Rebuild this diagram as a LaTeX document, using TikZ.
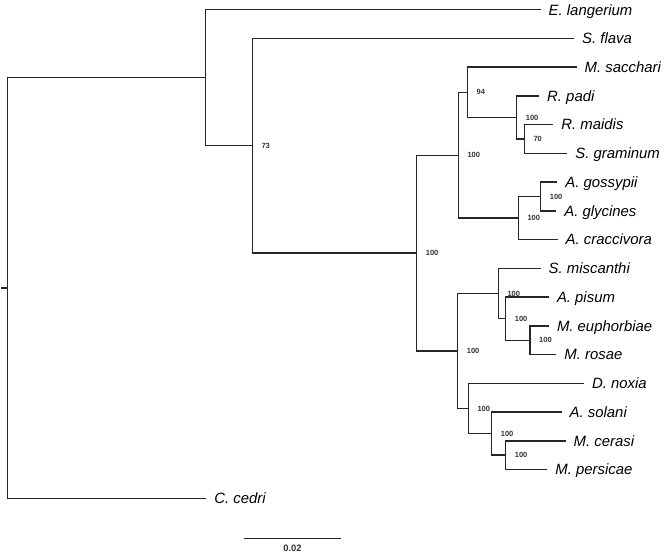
\documentclass[tikz,border=0pt]{standalone}
\usepackage{fontspec}
\setmainfont{Liberation Sans}
\begin{document}
\begin{tikzpicture}[x=1pt, y=-28.74pt,
    branch/.style={line width=1.4pt, black!85, line cap=rect},
    taxon/.style={anchor=west, inner xsep=8.5pt, inner ysep=0pt, text height=10.6pt, text depth=0pt,
      font=\fontsize{14.9}{16}\selectfont\itshape},
    support/.style={anchor=west, xshift=9pt, inner sep=0pt, text=black!80,
      font=\fontsize{7.5}{8}\selectfont\bfseries}]
    \useasboundingbox (0,-0.3375) rectangle (669,18.939);

    % Tips of the tree
    \node[taxon] (elang) at (540,0) {E. langerium};
    \node[taxon] (sflava) at (573.5,1) {S. flava};
    \node[taxon] (msacch) at (576,2) {M. sacchari};
    \node[taxon] (rpadi) at (538.5,3) {R. padi};
    \node[taxon] (rmaidis) at (552.7,4) {R. maidis};
    \node[taxon] (sgram) at (566.7,5) {S. graminum};
    \node[taxon] (agoss) at (556.7,6) {A. gossypii};
    \node[taxon] (aglyc) at (555.7,7) {A. glycines};
    \node[taxon] (acracc) at (557,8) {A. craccivora};
    \node[taxon] (smisc) at (540,9) {S. miscanthi};
    \node[taxon] (apisum) at (548.3,10) {A. pisum};
    \node[taxon] (meuph) at (548.3,11) {M. euphorbiae};
    \node[taxon] (mrosae) at (555.7,12) {M. rosae};
    \node[taxon] (dnoxia) at (583.3,13) {D. noxia};
    \node[taxon] (asolani) at (561,14) {A. solani};
    \node[taxon] (mcerasi) at (565,15) {M. cerasi};
    \node[taxon] (mpers) at (546.7,16) {M. persicae};
    \node[taxon] (ccedri) at (205.7,17) {C. cedri};

    % Internal nodes
    \coordinate (stub) at (2,9.684);
    \coordinate (root) at (7.3,9.684);
    \coordinate (nA) at (205.7,2.367);
    \coordinate (n73) at (252.3,4.734);
    \coordinate (nbig) at (416.7,8.469);
    \coordinate (nup) at (458.3,5.0625);
    \coordinate (n94) at (467.5,2.875);
    \coordinate (nrp) at (516.7,3.75);
    \coordinate (nrm) at (524.3,4.5);
    \coordinate (nac) at (518.3,7.25);
    \coordinate (nag) at (540.7,6.5);
    \coordinate (nlo) at (457.7,11.875);
    \coordinate (nsm) at (498.3,9.875);
    \coordinate (nap) at (505.7,10.75);
    \coordinate (nme) at (530,11.5);
    \coordinate (ndn) at (468.3,13.875);
    \coordinate (nas) at (491.7,14.75);
    \coordinate (nmc) at (505.7,15.5);

    % Root and outgroup
    \draw[branch] (stub) -- (root);
    \draw[branch] (root) |- (nA);
    \draw[branch] (root) |- (ccedri.west);
    \draw[branch] (nA) |- (elang.west);
    \draw[branch] (nA) |- (n73);
    \draw[branch] (n73) |- (sflava.west);
    \draw[branch] (n73) |- (nbig);

    % Upper clade
    \draw[branch] (nbig) |- (nup);
    \draw[branch] (nup) |- (n94);
    \draw[branch] (n94) |- (msacch.west);
    \draw[branch] (n94) |- (nrp);
    \draw[branch] (nrp) |- (rpadi.west);
    \draw[branch] (nrp) |- (nrm);
    \draw[branch] (nrm) |- (rmaidis.west);
    \draw[branch] (nrm) |- (sgram.west);
    \draw[branch] (nup) |- (nac);
    \draw[branch] (nac) |- (nag);
    \draw[branch] (nag) |- (agoss.west);
    \draw[branch] (nag) |- (aglyc.west);
    \draw[branch] (nac) |- (acracc.west);

    % Lower clade
    \draw[branch] (nbig) |- (nlo);
    \draw[branch] (nlo) |- (nsm);
    \draw[branch] (nsm) |- (smisc.west);
    \draw[branch] (nsm) |- (nap);
    \draw[branch] (nap) |- (apisum.west);
    \draw[branch] (nap) |- (nme);
    \draw[branch] (nme) |- (meuph.west);
    \draw[branch] (nme) |- (mrosae.west);
    \draw[branch] (nlo) |- (ndn);
    \draw[branch] (ndn) |- (dnoxia.west);
    \draw[branch] (ndn) |- (nas);
    \draw[branch] (nas) |- (asolani.west);
    \draw[branch] (nas) |- (nmc);
    \draw[branch] (nmc) |- (mcerasi.west);
    \draw[branch] (nmc) |- (mpers.west);

    % Bootstrap values
    \node[support] (s73) at (n73) {73};
    \node[support] (sbig) at (nbig) {100};
    \node[support] (sup) at (nup) {100};
    \node[support] (s94) at (n94) {94};
    \node[support] (srp) at (nrp) {100};
    \node[support] (srm) at (nrm) {70};
    \node[support] (sac) at (nac) {100};
    \node[support] (sag) at (nag) {100};
    \node[support] (slo) at (nlo) {100};
    \node[support] (ssm) at (nsm) {100};
    \node[support] (sap) at (nap) {100};
    \node[support] (sme) at (nme) {100};
    \node[support] (sdn) at (ndn) {100};
    \node[support] (sas) at (nas) {100};
    \node[support] (smc) at (nmc) {100};

    % Scale bar
    \coordinate (barL) at (245,18.39);
    \coordinate (barR) at (340,18.39);
    \draw[branch] (barL) -- (barR);
    \node[inner sep=0pt, text depth=0pt, text=black!80, font=\fontsize{9.4}{10}\selectfont\bfseries] (barlabel) at (292.5,18.72) {0.02};
\end{tikzpicture}
\end{document}
